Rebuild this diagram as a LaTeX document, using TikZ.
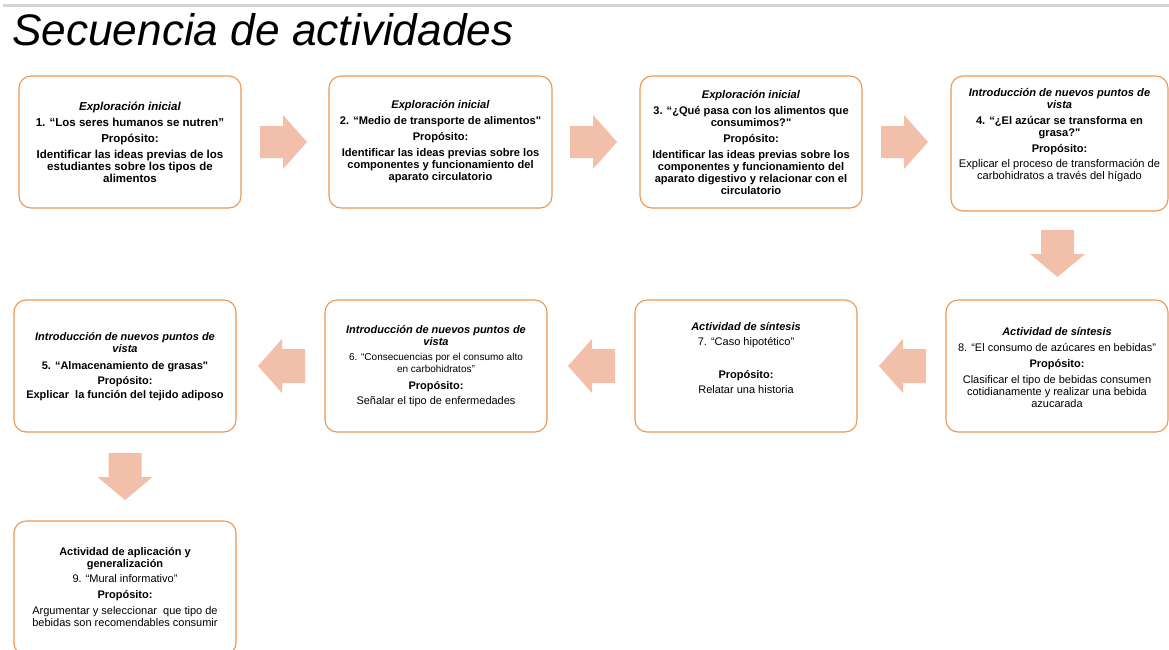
\documentclass[tikz,border=0pt]{standalone}
\usepackage{fontspec}
\setmainfont{Liberation Sans}
\newfontfamily\sqfont{Liberation Sans}[Ligatures=ResetAll]
\newcommand\sq{{\sqfont"}}
\newcommand\hd[1]{\textbf{\textit{#1}}}
\definecolor{boxline}{RGB}{237,150,82}
\definecolor{arrowfill}{RGB}{242,191,170}
\definecolor{topline}{RGB}{210,210,210}
\tikzset{
  box/.style={draw=boxline, line width=1.1pt, rounded corners=12pt, fill=white},
  txt/.style={align=center, font=\fontsize{11}{12}\selectfont, inner sep=0pt},
  blockarrow/.style={fill=arrowfill, draw=none},
  rarrow/.pic={\path[blockarrow] (0,-16) -- (23,-16) -- (23,-27) -- (47,0) -- (23,27) -- (23,16) -- (0,16) -- cycle;},
  larrow/.pic={\path[blockarrow] (0,-17) -- (-23,-17) -- (-23,-27) -- (-47,0) -- (-23,27) -- (-23,17) -- (0,17) -- cycle;},
  darrow/.pic={\path[blockarrow] (-16.5,0) -- (16.5,0) -- (16.5,24) -- (27.5,24) -- (0,47) -- (-27.5,24) -- (-16.5,24) -- cycle;}
}
\begin{document}
\begin{tikzpicture}[x=1pt,y=-1pt]
\useasboundingbox (0,0) rectangle (1169,649);
\clip (0,0) rectangle (1169,649);
\draw[topline, line width=2.5pt] (3,5.5) -- (1169,5.5);
\node[anchor=base west, inner sep=0pt, font=\fontsize{44.2}{50}\selectfont\itshape] (title) at (12,45) {Secuencia de actividades};

% row 1
\node[box, minimum width=222pt, minimum height=132pt] (b1) at (130,142) {};
\node[txt, font=\fontsize{11.5}{12}\selectfont] (t1) at (b1.center) {\hd{Exploración inicial}\\[4pt]
\textbf{1. “Los seres humanos se nutren”}\\[4pt]
\textbf{Propósito:}\\[4pt]
\textbf{Identificar las ideas previas de los}\\
\textbf{estudiantes sobre los tipos de}\\
\textbf{alimentos}};

\node[box, minimum width=223pt, minimum height=132pt] (b2) at (440.5,142) {};
\node[txt, font=\fontsize{11.1}{12}\selectfont] (t2) at (b2.center) {\hd{Exploración inicial}\\[4pt]
\textbf{2. “Medio de transporte de alimentos\sq}\\[4pt]
\textbf{Propósito:}\\[4pt]
\textbf{Identificar las ideas previas sobre los}\\
\textbf{componentes y funcionamiento del}\\
\textbf{aparato circulatorio}};

\node[box, minimum width=222pt, minimum height=132pt] (b3) at (751,142) {};
\node[txt, font=\fontsize{11.1}{12}\selectfont] (t3) at (b3.center) {\hd{Exploración inicial}\\[4pt]
\textbf{3. “¿Qué pasa con los alimentos que}\\
\textbf{consumimos?\sq}\\[4pt]
\textbf{Propósito:}\\[4pt]
\textbf{Identificar las ideas previas sobre los}\\
\textbf{componentes y funcionamiento del}\\
\textbf{aparato digestivo y relacionar con el}\\
\textbf{circulatorio}};

\node[box, minimum width=217pt, minimum height=135pt] (b4) at (1059.5,143.5) {};
\node[txt, font=\fontsize{11.1}{12}\selectfont] (t4) at ([yshift=8pt]b4.center) {\hd{Introducción de nuevos puntos de}\\
\hd{vista}\\[4pt]
\textbf{4. “¿El azúcar se transforma en}\\
\textbf{grasa?\sq}\\[4pt]
\textbf{Propósito:}\\[3pt]
Explicar el proceso de transformación de\\
carbohidratos a través del hígado};

% row 2
\node[box, minimum width=222pt, minimum height=132pt] (b8) at (1057,366) {};
\node[txt] (t8) at ([yshift=-1.5pt]b8.center) {\hd{Actividad de síntesis}\\[4pt]
8. “El consumo de azúcares en bebidas”\\[4pt]
\textbf{Propósito:}\\[4pt]
Clasificar el tipo de bebidas consumen\\
cotidianamente y realizar una bebida\\
azucarada};

\node[box, minimum width=222pt, minimum height=132pt] (b7) at (746,366) {};
\node[txt] (t7) at ([yshift=8pt]b7.center) {\hd{Actividad de síntesis}\\[3pt]
7. “Caso hipotético”\\[3pt]
\\[6pt]
\textbf{Propósito:}\\[3pt]
Relatar una historia};

\node[box, minimum width=222pt, minimum height=132pt] (b6) at (436,366) {};
\node[txt] (t6) at (b6.center) {\hd{Introducción de nuevos puntos de}\\
\hd{vista}\\[3pt]
{\fontsize{10}{11}\selectfont 6. “Consecuencias por el consumo alto}\\
{\fontsize{10}{11}\selectfont en carbohidratos”}\\[5pt]
\textbf{Propósito:}\\[3pt]
Señalar el tipo de enfermedades};

\node[box, minimum width=222pt, minimum height=132pt] (b5) at (125,366) {};
\node[txt] (t5) at ([yshift=-1pt]b5.center) {\hd{Introducción de nuevos puntos de}\\
\hd{vista}\\[5pt]
\textbf{5. “Almacenamiento de grasas\sq}\\[3pt]
\textbf{Propósito:}\\[2pt]
\textbf{Explicar\ \ la función del tejido adiposo}};

% row 3
\node[box, minimum width=222pt, minimum height=134pt] (b9) at (125,588) {};
\node[txt] (t9) at ([yshift=1pt]b9.center) {\textbf{Actividad de aplicación y}\\
\textbf{generalización}\\[3pt]
9. “Mural informativo”\\[4pt]
\textbf{Propósito:}\\[4pt]
Argumentar y seleccionar\ \ que tipo de\\
bebidas son recomendables consumir};

% arrows
\pic at (260,142) {rarrow};
\pic at (570,142) {rarrow};
\pic at (881,142) {rarrow};
\pic at (1057.5,230) {darrow};
\pic at (926,366) {larrow};
\pic at (615,366) {larrow};
\pic at (305,366) {larrow};
\pic at (125,453) {darrow};
\end{tikzpicture}
\end{document}
